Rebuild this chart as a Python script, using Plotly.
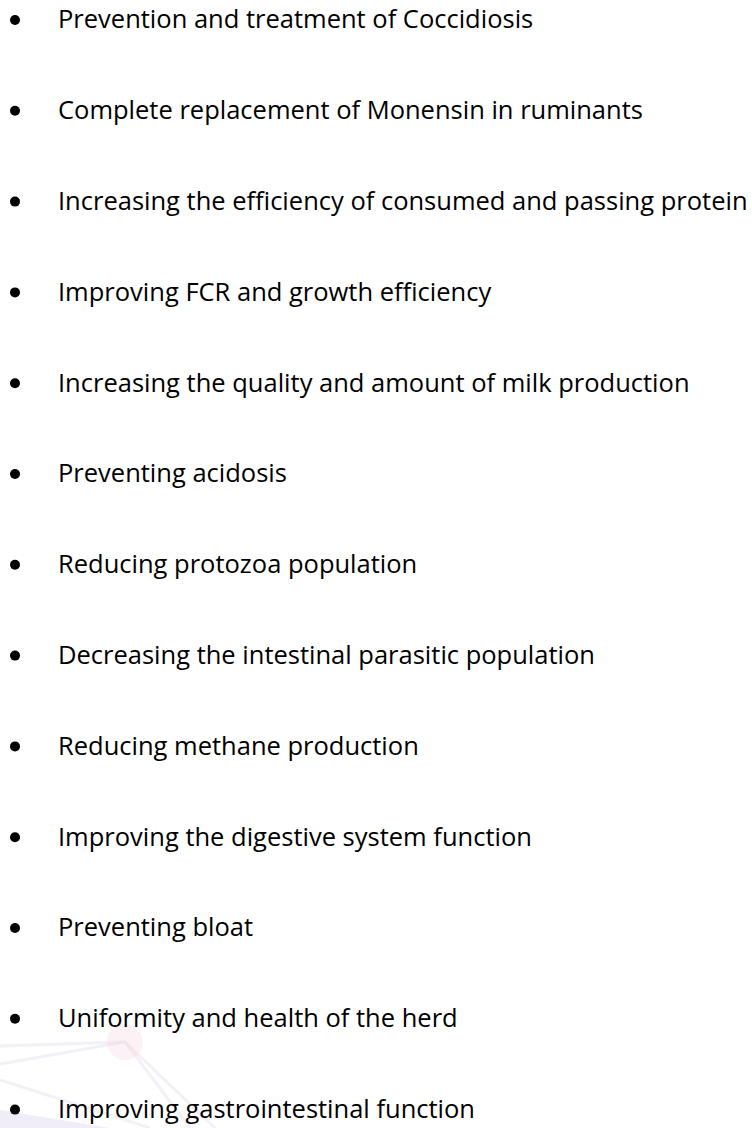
import plotly.graph_objects as go

items = [
    "Prevention and treatment of Coccidiosis",
    "Complete replacement of Monensin in ruminants",
    "Increasing the efficiency of consumed and passing protein",
    "Improving FCR and growth efficiency",
    "Increasing the quality and amount of milk production",
    "Preventing acidosis",
    "Reducing protozoa population",
    "Decreasing the intestinal parasitic population",
    "Reducing methane production",
    "Improving the digestive system function",
    "Preventing bloat",
    "Uniformity and health of the herd",
    "Improving gastrointestinal function",
]

W, H = 752, 1128
STEP = 90.8
BASELINE_1 = 28.3
BULLET_X = 15
TEXT_X = 56
FONT = "'Open Sans', 'Noto Sans', sans-serif"
FSIZE = 25.5

bullet_ys = [BASELINE_1 - 8.3 + i * STEP for i in range(len(items))]
text_ys = [BASELINE_1 - 0.388 * FSIZE + i * STEP for i in range(len(items))]

fig = go.Figure()

# faint watermark (network graphic) in the lower-left corner
wm_lines = [
    ((125, 1042), (0, 1046)),
    ((125, 1042), (0, 1064)),
    ((125, 1042), (190, 1128)),
    ((125, 1042), (215, 1128)),
    ((0, 1080), (150, 1128)),
]
for (x0, y0), (x1, y1) in wm_lines:
    fig.add_shape(type="line", xref="x", yref="y", x0=x0, y0=y0, x1=x1, y1=y1,
                  line=dict(color="rgba(230,222,238,0.45)", width=3), layer="below")
fig.add_shape(type="path", xref="x", yref="y",
              path="M 0 1110 L 110 1128 L 0 1128 Z",
              fillcolor="rgba(205,195,235,0.3)", line=dict(width=0), layer="below")
fig.add_shape(type="circle", xref="x", yref="y", x0=107, y0=1024, x1=143, y1=1060,
              fillcolor="rgba(245,218,225,0.35)", line=dict(width=0), layer="below")

fig.add_trace(go.Scatter(
    x=[BULLET_X] * len(items), y=bullet_ys, mode="markers",
    marker=dict(size=10, color="black", line=dict(width=0)),
    hoverinfo="skip", showlegend=False, cliponaxis=False,
))

for y, t in zip(text_ys, items):
    fig.add_annotation(x=TEXT_X, y=y, xref="x", yref="y", text=t,
                       showarrow=False, xanchor="left", yanchor="middle",
                       font=dict(family=FONT, size=FSIZE, color="black"))

fig.update_xaxes(range=[0, W], visible=False, fixedrange=True)
fig.update_yaxes(range=[H, 0], visible=False, fixedrange=True)
fig.update_layout(
    width=W, height=H,
    margin=dict(l=0, r=0, t=0, b=0),
    paper_bgcolor="white", plot_bgcolor="white",
)

fig.write_html(
    "out.html",
    config={"displayModeBar": False},
    post_script="document.body.style.margin='0';document.body.style.overflow='hidden';",
)
